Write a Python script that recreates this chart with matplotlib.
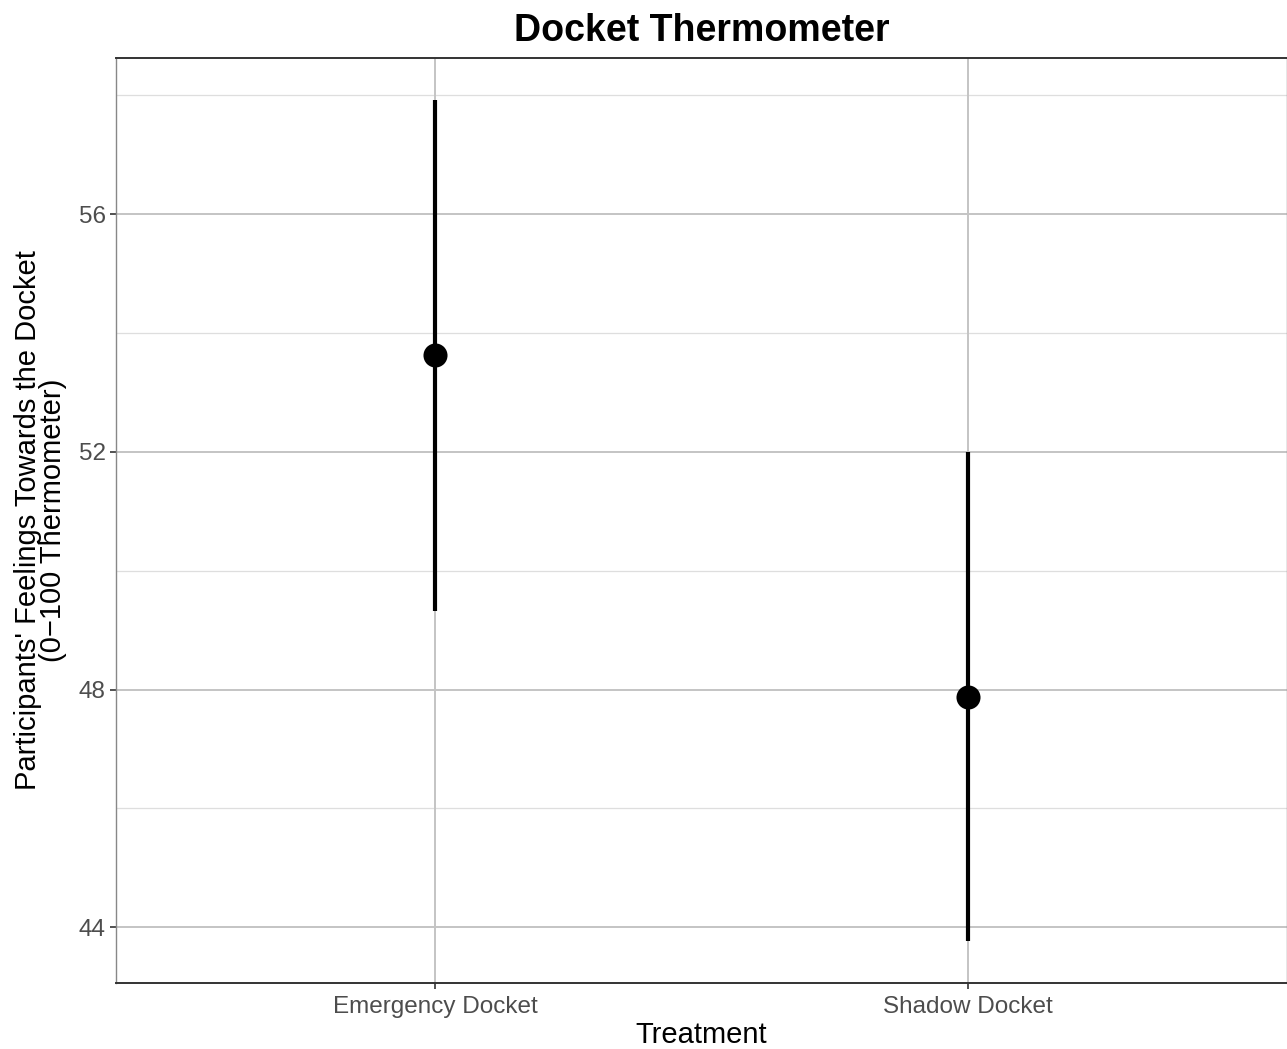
import matplotlib
matplotlib.use("Agg")
import matplotlib.pyplot as plt

plt.rcParams['font.family'] = ['Liberation Sans', 'DejaVu Sans']

categories = ["Emergency Docket", "Shadow Docket"]
means = [53.63, 47.88]
lower = [49.33, 43.76]
upper = [57.93, 52.00]
yticks = [44, 48, 52, 56]
yminor = [46, 50, 54, 58]

fig = plt.figure(figsize=(12.87, 10.49), dpi=100)
ax = fig.add_axes([116/1287, 66/1049, 1171/1287, 925/1049])

x = list(range(1, len(categories) + 1))
ax.set_xlim(0.4, 2.6)
ax.set_ylim(43.06, 58.63)

for yv in yminor:
    ax.axhline(yv, color="#dedede", lw=0.9, zorder=0)
for yv in yticks:
    ax.axhline(yv, color="#c4c4c4", lw=1.4, zorder=0)
for xv in x:
    ax.axvline(xv, color="#c4c4c4", lw=1.4, zorder=0)

ax.vlines(x, lower, upper, color="black", lw=3.0, zorder=2)
ax.scatter(x, means, s=300, color="black", zorder=3, linewidths=0)

ax.set_xticks(x)
ax.set_xticklabels(categories)
ax.set_yticks(yticks)
ax.set_yticklabels([str(v) for v in yticks])
ax.tick_params(axis='both', colors="#333333", labelcolor="#4d4d4d", labelsize=17.5, length=4.5, width=1.2, pad=3)
ax.tick_params(axis='x', pad=5)

for side in ["left", "right"]:
    ax.spines[side].set_color("#888888")
    ax.spines[side].set_linewidth(1.0)
for side in ["top", "bottom"]:
    ax.spines[side].set_color("#333333")
    ax.spines[side].set_linewidth(1.4)

ax.set_xlabel("Treatment", fontsize=21, labelpad=2)
ax.set_ylabel("Participants' Feelings Towards the Docket\n(0\u2212100 Thermometer)", fontsize=21, labelpad=8, linespacing=0.9)
ax.set_title("Docket Thermometer", fontsize=27, fontweight="bold", pad=12)

fig.savefig("out.png", dpi=100)
